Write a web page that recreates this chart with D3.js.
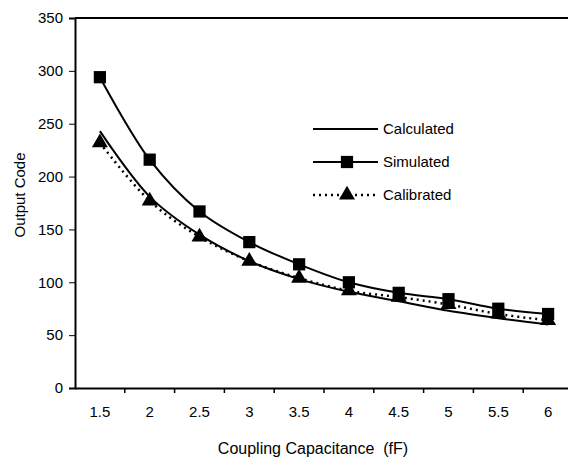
<!DOCTYPE html>
<html>
<head>
<meta charset="utf-8">
<script src="https://cdn.jsdelivr.net/npm/d3@7"></script>
<style>
  body { margin: 0; background: #fff; }
  text { font-family: "Liberation Sans", Arial, sans-serif; fill: #000; }
</style>
</head>
<body>
<div id="viz"></div>
<script>
// chart data
var capacitance = ["1.5", "2", "2.5", "3", "3.5", "4", "4.5", "5", "5.5", "6"]
var calculated = [243, 181, 145, 120, 103, 91, 82, 73, 66, 60]
var simulated = [294, 216, 167, 138, 117, 100, 90, 84, 75, 70]
var calibrated = [232, 177, 143, 120, 104, 92, 86, 79, 70, 64]
var yTicks = [0, 50, 100, 150, 200, 250, 300, 350]

var svg = d3.select("#viz")
    .append("svg")
    .attr("width", 568)
    .attr("height", 459)

var x = d3.scaleBand()
    .domain(capacitance)
    .range([75, 573])

var y = d3.scaleLinear()
    .domain([0, 350])
    .range([388, 18])

var cx = d => x(d) + x.bandwidth() / 2

// y axis
var yAxis = svg.append("g")
    .attr("transform", "translate(75,0)")
    .call(d3.axisLeft(y).tickValues(yTicks).tickSize(6).tickPadding(6))
yAxis.select(".domain").attr("stroke-width", 2)
yAxis.selectAll("text").style("font-size", "15px")

// x axis, ticks fall between categories
var xAxis = svg.append("g")
    .attr("transform", "translate(0,388)")
    .call(d3.axisBottom(x).tickSize(0).tickPadding(18))
xAxis.select(".domain").attr("stroke-width", 2)
xAxis.selectAll("text").style("font-size", "15px")
xAxis.selectAll(".sep")
    .data(capacitance)
    .enter()
    .append("line")
    .attr("x1", d => x(d) + x.bandwidth())
    .attr("x2", d => x(d) + x.bandwidth())
    .attr("y1", 0)
    .attr("y2", 5)
    .attr("stroke", "#000")
    .attr("stroke-width", 1.5)

// top border
svg.append("line")
    .attr("x1", 75).attr("x2", 573)
    .attr("y1", y(350)).attr("y2", y(350))
    .attr("stroke", "#000")
    .attr("stroke-width", 2)

var line = d3.line()
    .x((d, i) => cx(capacitance[i]))
    .y(d => y(d))
    .curve(d3.curveCatmullRom)

svg.append("path")
    .attr("d", line(calculated))
    .attr("fill", "none")
    .attr("stroke", "#000")
    .attr("stroke-width", 2)

svg.append("path")
    .attr("d", line(simulated))
    .attr("fill", "none")
    .attr("stroke", "#000")
    .attr("stroke-width", 2)

svg.append("path")
    .attr("d", line(calibrated))
    .attr("fill", "none")
    .attr("stroke", "#000")
    .attr("stroke-width", 2.5)
    .attr("stroke-dasharray", "2,4")

var square = d3.symbol().type(d3.symbolSquare).size(150)
var triangle = d3.symbol().type(d3.symbolTriangle).size(110)

svg.selectAll(".sim")
    .data(simulated)
    .enter()
    .append("path")
    .attr("class", "sim")
    .attr("d", square)
    .attr("transform", (d, i) => "translate(" + cx(capacitance[i]) + "," + y(d) + ")")

svg.selectAll(".cal")
    .data(calibrated)
    .enter()
    .append("path")
    .attr("class", "cal")
    .attr("d", triangle)
    .attr("transform", (d, i) => "translate(" + cx(capacitance[i]) + "," + y(d) + ")")

// legend
var legend = svg.append("g").attr("transform", "translate(313,0)")
var rows = [
    {name: "Calculated", y: 129, dash: null, mark: null},
    {name: "Simulated", y: 162, dash: null, mark: square},
    {name: "Calibrated", y: 195, dash: "2,4", mark: triangle}
]
rows.forEach(r => {
    legend.append("line")
        .attr("x1", 0).attr("x2", 65)
        .attr("y1", r.y).attr("y2", r.y)
        .attr("stroke", "#000")
        .attr("stroke-width", r.dash ? 2.5 : 2)
        .attr("stroke-dasharray", r.dash)
    if (r.mark) {
        legend.append("path")
            .attr("d", r.mark)
            .attr("transform", "translate(34," + r.y + ")")
    }
    legend.append("text")
        .attr("x", 70)
        .attr("y", r.y + 5)
        .style("font-size", "15px")
        .text(r.name)
})

// axis titles
svg.append("text")
    .attr("x", 313)
    .attr("y", 454)
    .attr("text-anchor", "middle")
    .style("font-size", "16px")
    .style("white-space", "pre")
    .text("Coupling Capacitance  (fF)")

svg.append("text")
    .attr("transform", "translate(25,195) rotate(-90)")
    .attr("text-anchor", "middle")
    .style("font-size", "15px")
    .text("Output Code")
</script>
</body>
</html>
